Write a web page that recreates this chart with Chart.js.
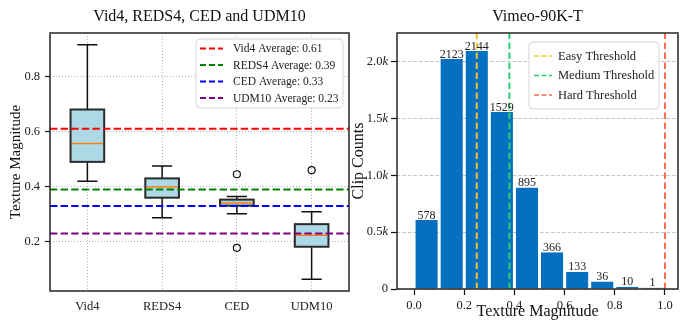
<!DOCTYPE html>
<html>
<head>
<meta charset="utf-8">
<script src="https://cdn.jsdelivr.net/npm/chart.js@4.4.1/dist/chart.umd.min.js"></script>
<style>
  html, body { margin: 0; padding: 0; background: #fff; }
  #wrap { position: relative; width: 683px; height: 324px; overflow: hidden; }
  #boxCanvas { position: absolute; left: 0; top: 0; }
  #histCanvas { position: absolute; left: 340px; top: 0; }
</style>
</head>
<body>
<div id="wrap">
  <canvas id="boxCanvas" width="352" height="324"></canvas>
  <canvas id="histCanvas" width="343" height="324"></canvas>
</div>
<script>
const serif = "'Liberation Serif', 'Times New Roman', serif";

// left panel: texture magnitude per test set
const datasetNames = ['Vid4', 'REDS4', 'CED', 'UDM10'];
const whiskerLow = [0.42, 0.287, 0.302, 0.064];
const quartile1 = [0.49, 0.36, 0.331, 0.182];
const medians = [0.557, 0.399, 0.341, 0.224];
const quartile3 = [0.68, 0.43, 0.353, 0.264];
const whiskerHigh = [0.915, 0.475, 0.364, 0.309];
const outliers = [[], [], [0.445, 0.178], [0.46]];
const averages = [0.61, 0.39, 0.33, 0.23];
const averageColors = ['#ff0000', '#008000', '#0000ff', '#800080'];
const magnitudeTicks = [0.2, 0.4, 0.6, 0.8];

// right panel: Vimeo-90K-T histogram
const binCenters = [0.05, 0.15, 0.25, 0.35, 0.45, 0.55, 0.65, 0.75, 0.85, 0.95];
const binHeights = [607, 2025, 2095, 1558, 892, 322, 150, 64, 18, 10];
const binLabels = ['578', '2123', '2144', '1529', '895', '366', '133', '36', '10', '1'];
const thresholdNames = ['Easy Threshold', 'Medium Threshold', 'Hard Threshold'];
const thresholdValues = [0.25, 0.38, 1.0];
const thresholdColors = ['#f2c12e', '#2ecc71', '#ff6b4d'];
const countTicks = [0, 500, 1000, 1500, 2000];
const histXTicks = [0, 0.2, 0.4, 0.6, 0.8, 1.0];

function drawFrame(chart) {
  const {ctx, chartArea: a} = chart;
  ctx.save();
  ctx.strokeStyle = '#262626';
  ctx.lineWidth = 1.5;
  ctx.strokeRect(a.left, a.top, a.right - a.left, a.bottom - a.top);
  ctx.restore();
}

function drawLegend(ctx, box, rows, opts) {
  ctx.save();
  ctx.beginPath();
  ctx.roundRect(box.x, box.y, box.w, box.h, 4);
  ctx.fillStyle = 'rgba(255,255,255,0.85)';
  ctx.fill();
  ctx.strokeStyle = '#d5d5d5';
  ctx.lineWidth = 1;
  ctx.stroke();
  ctx.font = opts.fontSize + 'px ' + serif;
  ctx.textBaseline = 'middle';
  rows.forEach((r, i) => {
    const yy = opts.firstRow + i * opts.rowGap;
    ctx.strokeStyle = r.color;
    ctx.lineWidth = opts.lineWidth;
    ctx.setLineDash(opts.dash);
    ctx.beginPath();
    ctx.moveTo(opts.lineX, yy);
    ctx.lineTo(opts.lineX + opts.lineLen, yy);
    ctx.stroke();
    ctx.setLineDash([]);
    ctx.fillStyle = '#222';
    ctx.fillText(r.text, opts.textX, yy + 0.5);
  });
  ctx.restore();
}

const boxPlugin = {
  id: 'boxes',
  beforeDatasetsDraw(chart) {
    const {ctx, scales: {x, y}} = chart;
    ctx.save();
    datasetNames.forEach((name, i) => {
      const cx = x.getPixelForValue(i + 1);
      const half = x.getPixelForValue(i + 1.225) - cx;
      const cap = x.getPixelForValue(i + 1.135) - cx;
      const yLo = y.getPixelForValue(whiskerLow[i]);
      const yHi = y.getPixelForValue(whiskerHigh[i]);
      const y1 = y.getPixelForValue(quartile1[i]);
      const y3 = y.getPixelForValue(quartile3[i]);
      const ym = y.getPixelForValue(medians[i]);
      ctx.strokeStyle = '#111';
      ctx.lineWidth = 1.5;
      ctx.beginPath();
      ctx.moveTo(cx, y3); ctx.lineTo(cx, yHi);
      ctx.moveTo(cx - cap, yHi); ctx.lineTo(cx + cap, yHi);
      ctx.moveTo(cx, y1); ctx.lineTo(cx, yLo);
      ctx.moveTo(cx - cap, yLo); ctx.lineTo(cx + cap, yLo);
      ctx.stroke();
      ctx.fillStyle = '#add8e6';
      ctx.fillRect(cx - half, y3, half * 2, y1 - y3);
      ctx.strokeStyle = '#2a2a2a';
      ctx.lineWidth = 2;
      ctx.strokeRect(cx - half, y3, half * 2, y1 - y3);
      ctx.strokeStyle = '#ff7f0e';
      ctx.lineWidth = 1.5;
      ctx.beginPath();
      ctx.moveTo(cx - half + 1, ym); ctx.lineTo(cx + half - 1, ym);
      ctx.stroke();
      ctx.strokeStyle = '#111';
      ctx.lineWidth = 1.2;
      outliers[i].forEach(v => {
        ctx.beginPath();
        ctx.arc(cx, y.getPixelForValue(v), 3.5, 0, Math.PI * 2);
        ctx.stroke();
      });
    });
    ctx.restore();
  },
  afterDraw(chart) {
    const {ctx} = chart;
    drawFrame(chart);
    ctx.save();
    ctx.fillStyle = '#111';
    ctx.font = '16px ' + serif;
    ctx.textAlign = 'center';
    ctx.textBaseline = 'middle';
    const a = chart.chartArea;
    ctx.fillText('Vid4, REDS4, CED and UDM10', (a.left + a.right) / 2, 17);
    ctx.font = '15px ' + serif;
    ctx.translate(16, (a.top + a.bottom) / 2);
    ctx.rotate(-Math.PI / 2);
    ctx.fillText('Texture Magnitude', 0, 0);
    ctx.restore();
    drawLegend(ctx, {x: 196, y: 39, w: 147, h: 69},
      datasetNames.map((n, i) => ({text: n + ' Average: ' + averages[i].toFixed(2), color: averageColors[i]})),
      {fontSize: 11.5, firstRow: 48.5, rowGap: 16.5, lineX: 200, lineLen: 23, textX: 233, lineWidth: 2, dash: [6, 3]});
  }
};

new Chart(document.getElementById('boxCanvas'), {
  type: 'line',
  data: {
    datasets: datasetNames.map((n, i) => ({
      label: n + ' Average: ' + averages[i].toFixed(2),
      data: [{x: 0.5, y: averages[i]}, {x: 4.5, y: averages[i]}],
      borderColor: averageColors[i],
      borderWidth: 2,
      borderDash: [7.4, 3.2],
      pointRadius: 0,
      fill: false
    }))
  },
  options: {
    responsive: false,
    animation: false,
    events: [],
    layout: {padding: {top: 33, right: 3, left: 0, bottom: 0}},
    plugins: {legend: {display: false}, tooltip: {enabled: false}},
    scales: {
      x: {
        type: 'linear', min: 0.5, max: 4.5,
        afterBuildTicks: s => { s.ticks = [1, 2, 3, 4].map(v => ({value: v})); },
        afterFit: s => { s.height = 33; },
        ticks: {callback: v => datasetNames[v - 1], color: '#222', padding: 8, maxRotation: 0,
          font: {family: serif, size: 12.5}},
        grid: {color: '#b4b4b4', lineWidth: 1, drawTicks: false},
        border: {display: false, dash: [1, 2]}
      },
      y: {
        min: 0.0214, max: 0.9576,
        afterBuildTicks: s => { s.ticks = magnitudeTicks.map(v => ({value: v})); },
        afterFit: s => { s.width = 50; },
        ticks: {callback: v => v.toFixed(1), color: '#222', padding: 5, font: {family: serif, size: 12.5}},
        grid: {color: '#b4b4b4', lineWidth: 1, tickLength: 5, tickColor: '#222', tickWidth: 1.2},
        border: {display: false, dash: [1, 2]}
      }
    }
  },
  plugins: [boxPlugin]
});

const histPlugin = {
  id: 'hist',
  afterDatasetsDraw(chart) {
    const {ctx} = chart;
    const meta = chart.getDatasetMeta(chart.data.datasets.length - 1);
    ctx.save();
    ctx.fillStyle = '#222';
    ctx.font = '12px ' + serif;
    ctx.textAlign = 'center';
    ctx.textBaseline = 'alphabetic';
    meta.data.forEach((bar, i) => {
      ctx.fillText(binLabels[i], bar.x, bar.y - 1.5);
    });
    ctx.restore();
  },
  afterDraw(chart) {
    const {ctx, scales: {y}} = chart;
    const a = chart.chartArea;
    drawFrame(chart);
    ctx.save();
    ctx.fillStyle = '#222';
    ctx.textBaseline = 'middle';
    countTicks.forEach(v => {
      const py = y.getPixelForValue(v);
      const right = a.left - 9;
      if (v === 0) {
        ctx.font = '12.5px ' + serif;
        ctx.textAlign = 'right';
        ctx.fillText('0', right, py);
        return;
      }
      ctx.font = 'italic 12.5px ' + serif;
      const kw = ctx.measureText('k').width;
      ctx.textAlign = 'right';
      ctx.fillText('k', right, py);
      ctx.font = '12.5px ' + serif;
      ctx.fillText((v / 1000).toFixed(1), right - kw, py);
    });
    ctx.fillStyle = '#111';
    ctx.textAlign = 'center';
    ctx.font = '16px ' + serif;
    ctx.fillText('Vimeo-90K-T', (a.left + a.right) / 2, 17);
    ctx.fillText('Texture Magnitude', (a.left + a.right) / 2, 312);
    ctx.translate(19, (a.top + a.bottom) / 2);
    ctx.rotate(-Math.PI / 2);
    ctx.fillText('Clip Counts', 0, 0);
    ctx.restore();
    drawLegend(ctx, {x: 189, y: 42, w: 130, h: 67},
      thresholdNames.map((n, i) => ({text: n, color: thresholdColors[i]})),
      {fontSize: 12.5, firstRow: 56, rowGap: 19.5, lineX: 194, lineLen: 18, textX: 218, lineWidth: 1.5, dash: [5, 2.5]});
  }
};

const yMax = 2254;

new Chart(document.getElementById('histCanvas'), {
  type: 'bar',
  data: {
    datasets: [
      ...thresholdNames.map((n, i) => ({
        type: 'line',
        label: n,
        data: [{x: thresholdValues[i], y: 0}, {x: thresholdValues[i], y: yMax}],
        borderColor: thresholdColors[i],
        borderWidth: 2,
        borderDash: [6.5, 3.5],
        pointRadius: 0,
        fill: false,
        order: 0
      })),
      {
        type: 'bar',
        label: 'Clip Counts',
        data: binCenters.map((c, i) => ({x: c, y: binHeights[i]})),
        backgroundColor: '#0570c0',
        borderWidth: 0,
        categoryPercentage: 1,
        barPercentage: 0.88,
        order: 1
      }
    ]
  },
  options: {
    responsive: false,
    animation: false,
    events: [],
    layout: {padding: {top: 33, right: 5, left: 0, bottom: 0}},
    plugins: {legend: {display: false}, tooltip: {enabled: false}},
    scales: {
      x: {
        type: 'linear', min: -0.068, max: 1.052, offset: false,
        afterBuildTicks: s => { s.ticks = histXTicks.map(v => ({value: v})); },
        afterFit: s => { s.height = 35; },
        ticks: {callback: v => v.toFixed(1), color: '#222', padding: 3, maxRotation: 0,
          font: {family: serif, size: 12.5}},
        grid: {drawOnChartArea: false, offset: false, tickLength: 6, tickColor: '#111', tickWidth: 1.2},
        border: {display: false}
      },
      y: {
        min: 0, max: yMax,
        afterBuildTicks: s => { s.ticks = countTicks.map(v => ({value: v})); },
        afterFit: s => { s.width = 57; },
        ticks: {callback: v => String(v), color: 'rgba(0,0,0,0)', padding: 3, font: {family: serif, size: 12}},
        grid: {color: '#c4c4c4', lineWidth: 1, tickLength: 6, tickColor: '#111', tickWidth: 1.2},
        border: {display: false, dash: [3.5, 2]}
      }
    }
  },
  plugins: [histPlugin]
});
</script>
</body>
</html>
